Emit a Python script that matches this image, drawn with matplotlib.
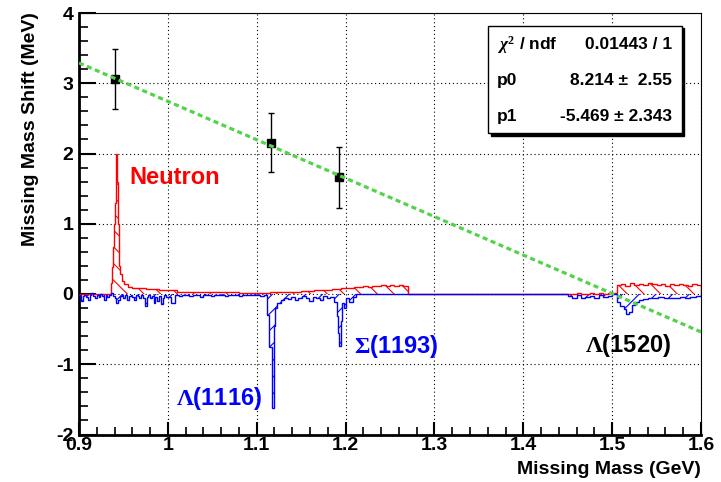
import matplotlib

matplotlib.use("Agg")
import matplotlib.pyplot as plt
import numpy as np
from matplotlib.patches import Rectangle
from matplotlib.ticker import FuncFormatter, MultipleLocator

plt.rcParams.update({
    "font.family": ["Liberation Sans", "DejaVu Sans"],
    "font.weight": "bold",
    "axes.unicode_minus": False,
    "mathtext.fontset": "custom",
    "mathtext.rm": "Liberation Serif",
    "mathtext.it": "Liberation Serif:italic",
    "mathtext.bf": "Liberation Serif:bold",
    "hatch.linewidth": 0.8,
})

# fitted mass shifts (GeV, MeV)
POINT_MASS = [0.940, 1.1165, 1.1925]
POINT_SHIFT = [3.06, 2.15, 1.66]
POINT_ERR = [0.43, 0.42, 0.43]

# pol1 fit line end points (p0 = 8.214, p1 = -5.469)
FIT_X = [0.9, 1.6]
FIT_Y = [3.29, -0.54]

# red (neutron) histogram
RED_PEAK_EDGES = [0.900, 0.9365, 0.9375, 0.9385, 0.9395, 0.9405, 0.9412, 0.9418,
                  0.9428, 0.9435, 0.9445, 0.9455, 0.9465, 0.948, 0.951, 0.955,
                  0.960, 0.975, 0.990, 1.010, 1.040, 1.080, 1.110]
RED_PEAK = [0.0, 0.15, 0.39, 0.67, 1.0, 1.3, 1.72, 2.0, 1.6, 1.0, 0.6, 0.4,
            0.28, 0.18, 0.14, 0.10, 0.09, 0.07, 0.05, 0.03, 0.025, 0.02]
RED_RISE = [0.020, 0.025, 0.022, 0.028, 0.030, 0.027, 0.035, 0.033, 0.040, 0.038,
            0.045, 0.050, 0.055, 0.060, 0.058, 0.070, 0.075, 0.080, 0.085, 0.090,
            0.095, 0.100, 0.110, 0.105, 0.120, 0.115, 0.125, 0.120, 0.130, 0.118,
            0.125, 0.120]
RED_EDGE_1500 = [0.005, 0.0, 0.01, 0.005, 0.0, 0.01, 0.005, 0.01, 0.0, 0.015, 0.01]
RED_TAIL = [0.13, 0.14, 0.12, 0.15, 0.13, 0.14, 0.13, 0.15, 0.14, 0.13, 0.14,
            0.12, 0.14, 0.13, 0.14, 0.13, 0.12, 0.14, 0.13]

# blue (hyperon) histogram
BLUE_LOW = [-0.02, -0.10, -0.03, -0.01, -0.04, -0.09, -0.02, 0.01, -0.03, -0.05,
            -0.02, -0.04, 0.00, -0.03, -0.08, -0.02, -0.04, -0.01, 0.02, -0.03,
            -0.05, -0.13, -0.08, -0.03, -0.02, -0.05, -0.02, -0.09, -0.03, -0.01,
            -0.04, -0.08, -0.02, -0.03, -0.05, -0.02, -0.06, -0.17, -0.04, -0.02,
            -0.05, -0.03, -0.13, -0.04, -0.10, -0.03, -0.14, -0.05, -0.02, -0.04]
BLUE_MID = [-0.04, -0.13, -0.02, -0.03, -0.01, -0.02, -0.03, -0.01, -0.02, -0.04,
            -0.01, -0.02, -0.03, -0.01, -0.02, -0.01, -0.03, -0.02, -0.01, -0.02,
            -0.03, -0.01, -0.02, -0.01, -0.02, -0.01, -0.03, -0.02]
BLUE_LAMBDA_EDGES = [1.112, 1.1135, 1.1172, 1.1192, 1.1205, 1.123, 1.127, 1.131]
BLUE_LAMBDA = [-0.30, -0.75, -1.62, -0.45, -0.20, -0.13, -0.08]
BLUE_FLAT = [-0.05, -0.07, -0.04, -0.09, -0.05, -0.03, -0.06, -0.10, -0.04, -0.05,
             -0.08, -0.03, -0.06, -0.04]
BLUE_SIGMA_EDGES = [1.187, 1.190, 1.1915, 1.193, 1.1945, 1.196, 1.198, 1.200,
                    1.204, 1.208, 1.212, 1.450]
BLUE_SIGMA = [-0.12, -0.32, -0.56, -0.74, -0.38, -0.13, -0.20, -0.05, -0.12, -0.04, 0.0]
BLUE_HIGH = [-0.03, -0.05, -0.02, -0.06, -0.04, -0.03, -0.05, -0.02, -0.04, -0.03, 0.0]
BLUE_1520_EDGES = [1.505, 1.509, 1.513, 1.516, 1.519, 1.522, 1.526, 1.530, 1.535, 1.540]
BLUE_1520 = [-0.12, -0.17, -0.22, -0.28, -0.25, -0.15, -0.12, -0.09, -0.07]
BLUE_TAIL = [-0.05, -0.06, -0.04, -0.05, -0.06, -0.05, -0.04, -0.05, -0.04, -0.03]


def even(start, stop, values):
    return np.linspace(start, stop, len(values) + 1), list(values)


def join(pieces):
    edges, vals = [pieces[0][0][0]], []
    for e, v in pieces:
        edges.extend(list(e)[1:])
        vals.extend(v)
    return np.array(edges), np.array(vals)


red_edges, red_vals = join([
    (RED_PEAK_EDGES, RED_PEAK),
    even(1.110, 1.270, RED_RISE),
    ([1.270, 1.450], [0.0]),
    even(1.450, 1.505, RED_EDGE_1500),
    even(1.505, 1.600, RED_TAIL),
])
blue_edges, blue_vals = join([
    even(0.900, 1.000, BLUE_LOW),
    even(1.000, 1.112, BLUE_MID),
    (BLUE_LAMBDA_EDGES, BLUE_LAMBDA),
    even(1.131, 1.187, BLUE_FLAT),
    (BLUE_SIGMA_EDGES, BLUE_SIGMA),
    even(1.450, 1.505, BLUE_HIGH),
    (BLUE_1520_EDGES, BLUE_1520),
    even(1.540, 1.600, BLUE_TAIL),
])

W, H = 721, 482
fig = plt.figure(figsize=(W / 100, H / 100), dpi=100)
ax = fig.add_axes([79 / W, 1 - 434.5 / H, 622 / W, 421.5 / H])
ax.set_xlim(0.9, 1.6)
ax.set_ylim(-2, 4)

ax.grid(True, which="major", color="black", linestyle=(0, (1, 2.5)), linewidth=0.8)
ax.set_axisbelow(True)

for vals, edges, color, hatch in [(red_vals, red_edges, "red", "\\\\"),
                                  (blue_vals, blue_edges, "blue", "//")]:
    ax.stairs(vals, edges, baseline=0, fill=True, facecolor="none",
              edgecolor=color, hatch=hatch, linewidth=0, zorder=2)
    ax.stairs(vals, edges, baseline=0, color=color, linewidth=1.0, zorder=3)

ax.errorbar(POINT_MASS, POINT_SHIFT, yerr=POINT_ERR, fmt="s", color="black",
            markersize=6, elinewidth=1, capsize=2.5, zorder=4)
ax.plot(FIT_X, FIT_Y, color="#55d24b", linewidth=2.3,
        linestyle=(0, (1.6, 1.1)), zorder=5)

ax.text(0.957, 1.566, "Neutron", color="red", fontsize=17)
ax.text(1.009, -1.58, r"$\Lambda$(1116)", color="blue", fontsize=17)
ax.text(1.209, -0.845, r"$\Sigma$(1193)", color="blue", fontsize=17)
ax.text(1.4697, -0.82, r"$\Lambda$(1520)", color="black", fontsize=17)

ax.xaxis.set_major_locator(MultipleLocator(0.1))
ax.xaxis.set_minor_locator(MultipleLocator(0.02))
ax.yaxis.set_major_locator(MultipleLocator(1))
ax.yaxis.set_minor_locator(MultipleLocator(0.2))
ax.xaxis.set_major_formatter(FuncFormatter(lambda v, p: f"{v:g}"))
ax.yaxis.set_major_formatter(FuncFormatter(lambda v, p: f"{v:g}"))
ax.tick_params(axis="x", which="major", direction="in", length=9.5, width=1.5,
               labelsize=14, pad=2)
ax.tick_params(axis="x", which="minor", direction="in", length=5.5, width=1.2)
ax.tick_params(axis="y", which="major", direction="in", length=12, width=1.5,
               labelsize=14, pad=4)
ax.tick_params(axis="y", which="minor", direction="in", length=6.5, width=1.2)
for side in ("left", "bottom"):
    ax.spines[side].set_linewidth(2)
for side in ("top", "right"):
    ax.spines[side].set_linewidth(0.8)

fig.text(31 / W, 1 - 12 / H, "Missing Mass Shift (MeV)", rotation=90,
         ha="center", va="top", fontsize=14)
fig.text(701 / W, 1 - 470 / H, "Missing Mass (GeV)", ha="right", va="center",
         fontsize=14)

# fit statistics box
bx, by, bw, bh = 488 / W, 1 - 133 / H, 193.5 / W, 107.3 / H
fig.add_artist(Rectangle((bx + 2.5 / W, by - 2.5 / H), bw, bh, transform=fig.transFigure,
                         facecolor="black", edgecolor="black", zorder=6))
fig.add_artist(Rectangle((bx, by), bw, bh, transform=fig.transFigure,
                         facecolor="white", edgecolor="black", linewidth=1, zorder=7))
stats = [(r"$\chi^{2}$ / ndf", "0.01443 / 1", 49.3),
         ("p0", "8.214 \u00b1  2.55", 85),
         ("p1", "-5.469 \u00b1 2.343", 120.7)]
for label, value, ypix in stats:
    fig.text(497 / W, 1 - ypix / H, label, ha="left", va="baseline", fontsize=12.5, zorder=8)
    fig.text(672 / W, 1 - ypix / H, value, ha="right", va="baseline", fontsize=12.5, zorder=8)

fig.savefig("out.png", dpi=100)
